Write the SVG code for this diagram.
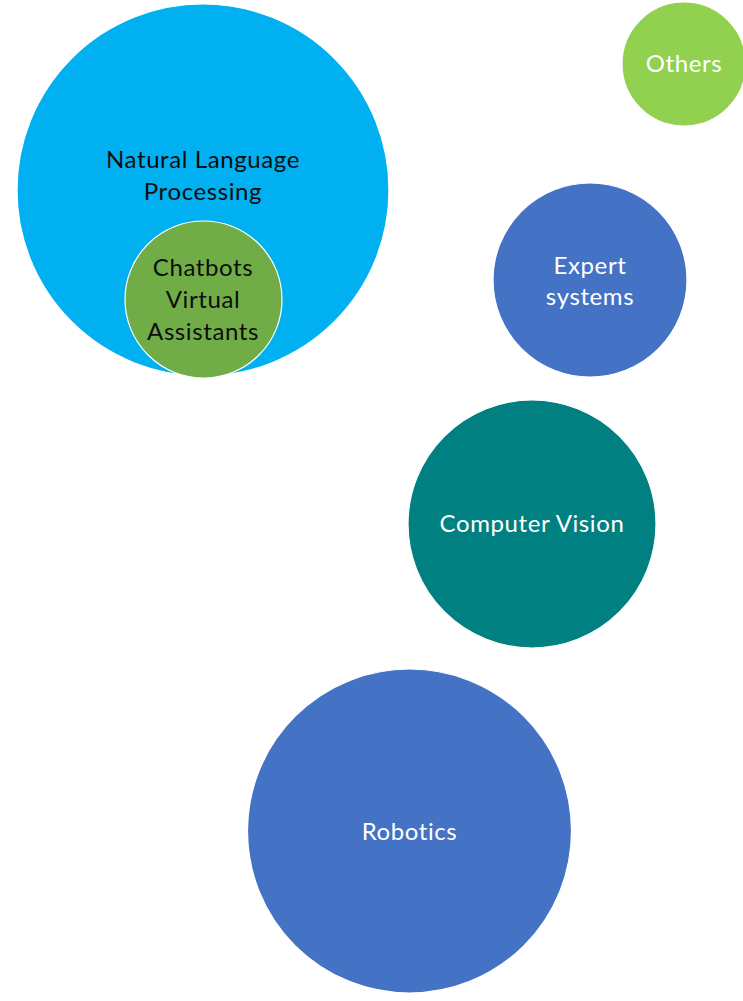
<svg xmlns="http://www.w3.org/2000/svg" width="743" height="1001" viewBox="0 0 743 1001">
<style>
.c{stroke:#ffffff;stroke-width:1.2}
.t{font-family:Lato,"Liberation Sans",sans-serif;font-size:24px;letter-spacing:0.6px;text-anchor:middle}
.d{fill:#0d0d0d}
.w{fill:#ffffff}
</style>
<rect width="743" height="1001" fill="#ffffff"/>
<g id="nlp">
<circle class="c" cx="203" cy="190" r="186" fill="#00B0F0"/>
<text class="t d" x="203" y="168">Natural Language</text>
<text class="t d" x="203" y="200">Processing</text>
</g>
<g id="chatbots">
<circle class="c" cx="203.5" cy="299.5" r="78.5" fill="#70AD47" stroke="#dcdcdc"/>
<text class="t d" x="203" y="276">Chatbots</text>
<text class="t d" x="203" y="308">Virtual</text>
<text class="t d" x="203" y="340">Assistants</text>
</g>
<g id="others">
<circle class="c" cx="684" cy="64" r="62" fill="#92D050"/>
<text class="t w" x="684" y="72">Others</text>
</g>
<g id="expert">
<circle class="c" cx="590" cy="280" r="97" fill="#4472C4"/>
<text class="t w" x="590" y="274">Expert</text>
<text class="t w" x="590" y="305">systems</text>
</g>
<g id="cv">
<circle class="c" cx="532" cy="524" r="124" fill="#008080"/>
<text class="t w" x="532" y="532">Computer Vision</text>
</g>
<g id="robotics">
<circle class="c" cx="409.5" cy="831" r="162" fill="#4472C4"/>
<text class="t w" x="409.5" y="840">Robotics</text>
</g>
<g id="connectors"></g>
</svg>
